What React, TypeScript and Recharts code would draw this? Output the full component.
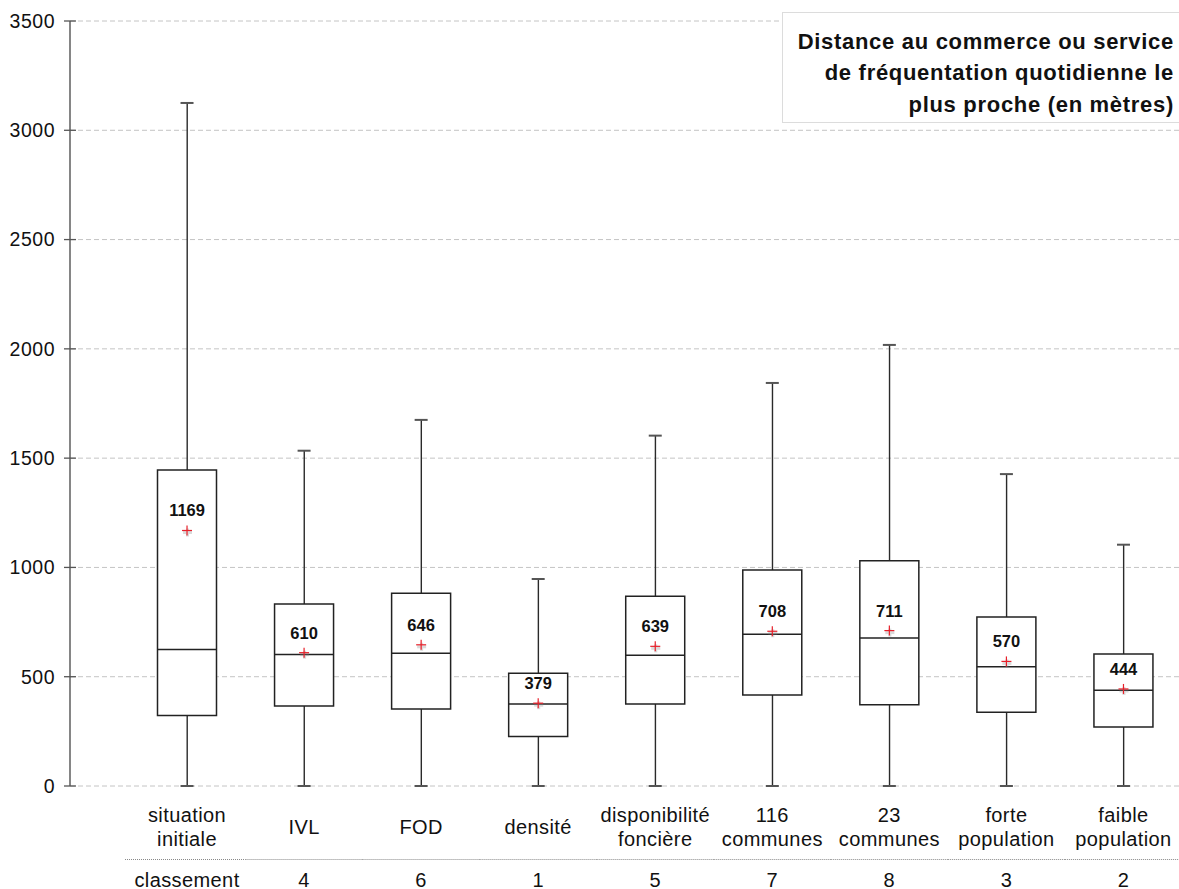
import { ComposedChart, Bar, Scatter, XAxis, YAxis, CartesianGrid } from "recharts";

const CATEGORIES = [
  "situation initiale",
  "IVL",
  "FOD",
  "densité",
  "disponibilité foncière",
  "116 communes",
  "23 communes",
  "forte population",
  "faible population",
];
const RANKS = ["classement", "4", "6", "1", "5", "7", "8", "3", "2"];

const MIN_VALUES = [0, 0, 0, 0, 0, 0, 0, 0, 0];
const Q1_VALUES = [323, 366, 352, 227, 375, 416, 372, 337, 270];
const MEDIAN_VALUES = [625, 602, 607, 375, 598, 694, 677, 546, 438];
const Q3_VALUES = [1446, 833, 882, 516, 868, 988, 1031, 773, 604];
const MAX_VALUES = [3125, 1534, 1675, 947, 1603, 1844, 2018, 1427, 1104];
const MEAN_VALUES = [1169, 610, 646, 379, 639, 708, 711, 570, 444];

const Y_TICKS = [0, 500, 1000, 1500, 2000, 2500, 3000, 3500];

const TITLE_LINES = ["Distance au commerce ou service", "de fréquentation quotidienne le", "plus proche (en mètres)"];

const data = CATEGORIES.map((name, i) => ({
  name,
  whisker: [MIN_VALUES[i], MAX_VALUES[i]],
  box: [Q1_VALUES[i], Q3_VALUES[i]],
  min: MIN_VALUES[i],
  max: MAX_VALUES[i],
  median: MEDIAN_VALUES[i],
  mean: MEAN_VALUES[i],
}));

const FONT = "'Liberation Sans', Arial, Helvetica, sans-serif";
const BOX_WIDTH = 59;

const CapShape = (props: any) => {
  const { cx, cy } = props;
  return <line x1={cx - 6.5} x2={cx + 6.5} y1={cy} y2={cy} stroke="#555" strokeWidth={2} />;
};

const MedianShape = (props: any) => {
  const { cx, cy } = props;
  return <line x1={cx - BOX_WIDTH / 2} x2={cx + BOX_WIDTH / 2} y1={cy} y2={cy} stroke="#222" strokeWidth={1.5} />;
};

const MeanShape = (props: any) => {
  const { cx, cy, payload } = props;
  return (
    <g>
      <g stroke="#888" strokeWidth={3} opacity={0.3}>
        <line x1={cx - 4} x2={cx + 5} y1={cy + 2} y2={cy + 2} />
        <line x1={cx + 0.5} x2={cx + 0.5} y1={cy - 2} y2={cy + 6} />
      </g>
      <g stroke="#e8202a" strokeWidth={1.2}>
        <line x1={cx - 5} x2={cx + 5} y1={cy} y2={cy} />
        <line x1={cx} x2={cx} y1={cy - 5} y2={cy + 5} />
      </g>
      <text x={cx} y={cy - 14} textAnchor="middle" fontFamily={FONT} fontWeight="bold" fontSize={16.5} fill="#111">
        {payload.mean}
      </text>
    </g>
  );
};

const YTick = (props: any) => {
  const { x, y, payload } = props;
  return (
    <g>
      <line x1={x - 6} x2={x + 6} y1={y} y2={y} stroke="#555" strokeWidth={1.3} />
      <text x={x - 15} y={y + 6.8} textAnchor="end" fontFamily={FONT} fontSize={19.5} letterSpacing={0.5} fill="#111">
        {payload.value}
      </text>
    </g>
  );
};

const XTick = (props: any) => {
  const { x, y, payload, index } = props;
  const words = String(payload.value).split(" ");
  const half = 58.6;
  return (
    <g fontFamily={FONT} fontSize={20} letterSpacing={0.4} fill="#111" textAnchor="middle">
      {words.length > 1 ? (
        <>
          <text x={x} y={y + 35.5}>{words[0]}</text>
          <text x={x} y={y + 60}>{words[1]}</text>
        </>
      ) : (
        <text x={x} y={y + 48}>{words[0]}</text>
      )}
      <line
        x1={index === 0 ? x - 62 : x - half}
        x2={x + half}
        y1={y + 73.5}
        y2={y + 73.5}
        stroke="#888"
        strokeWidth={1}
        strokeDasharray="1 1"
      />
      <text x={x} y={y + 100.5}>{RANKS[index]}</text>
    </g>
  );
};

export default function App() {
  return (
    <div style={{ position: "relative", width: 1179, height: 889, overflow: "hidden", background: "#fff" }}>
      <style>{"body{margin:0}"}</style>
      <ComposedChart width={1182} height={889} data={data} margin={{ top: 21, right: 0, bottom: 0, left: 0 }}>
        <CartesianGrid xAxisId="box" vertical={false} stroke="#c4c4c4" strokeDasharray="5 3" />
        <XAxis
          xAxisId="box"
          dataKey="name"
          height={103}
          padding={{ left: 58.5, right: 0 }}
          axisLine={false}
          tickLine={false}
          tickSize={0}
          tickMargin={0}
          interval={0}
          tick={<XTick />}
        />
        <XAxis xAxisId="w" dataKey="name" hide padding={{ left: 58.5, right: 0 }} />
        <YAxis
          width={70}
          domain={[0, 3500]}
          ticks={Y_TICKS}
          interval={0}
          axisLine={{ stroke: "#444", strokeWidth: 1.3 }}
          tickLine={false}
          tickSize={0}
          tickMargin={0}
          tick={<YTick />}
        />
        <Bar xAxisId="w" dataKey="whisker" barSize={1.4} fill="#2a2a2a" isAnimationActive={false} />
        <Bar
          xAxisId="box"
          dataKey="box"
          barSize={BOX_WIDTH}
          fill="#fff"
          stroke="#222"
          strokeWidth={1.5}
          isAnimationActive={false}
        />
        <Scatter xAxisId="box" dataKey="median" shape={MedianShape} isAnimationActive={false} />
        <Scatter xAxisId="box" dataKey="max" shape={CapShape} isAnimationActive={false} />
        <Scatter xAxisId="box" dataKey="min" shape={CapShape} isAnimationActive={false} />
        <Scatter xAxisId="box" dataKey="mean" shape={MeanShape} isAnimationActive={false} />
      </ComposedChart>
      <div
        style={{
          position: "absolute",
          left: 782,
          top: 12,
          width: 400,
          height: 111,
          boxSizing: "border-box",
          border: "1px solid #dcdcdc",
          background: "#fff",
          paddingTop: 12.5,
          paddingRight: 7,
          textAlign: "right",
          fontFamily: FONT,
          fontWeight: "bold",
          fontSize: 22,
          letterSpacing: 0.7,
          lineHeight: "31.5px",
          color: "#111",
        }}
      >
        {TITLE_LINES.map((l) => (
          <div key={l}>{l}</div>
        ))}
      </div>
    </div>
  );
}
